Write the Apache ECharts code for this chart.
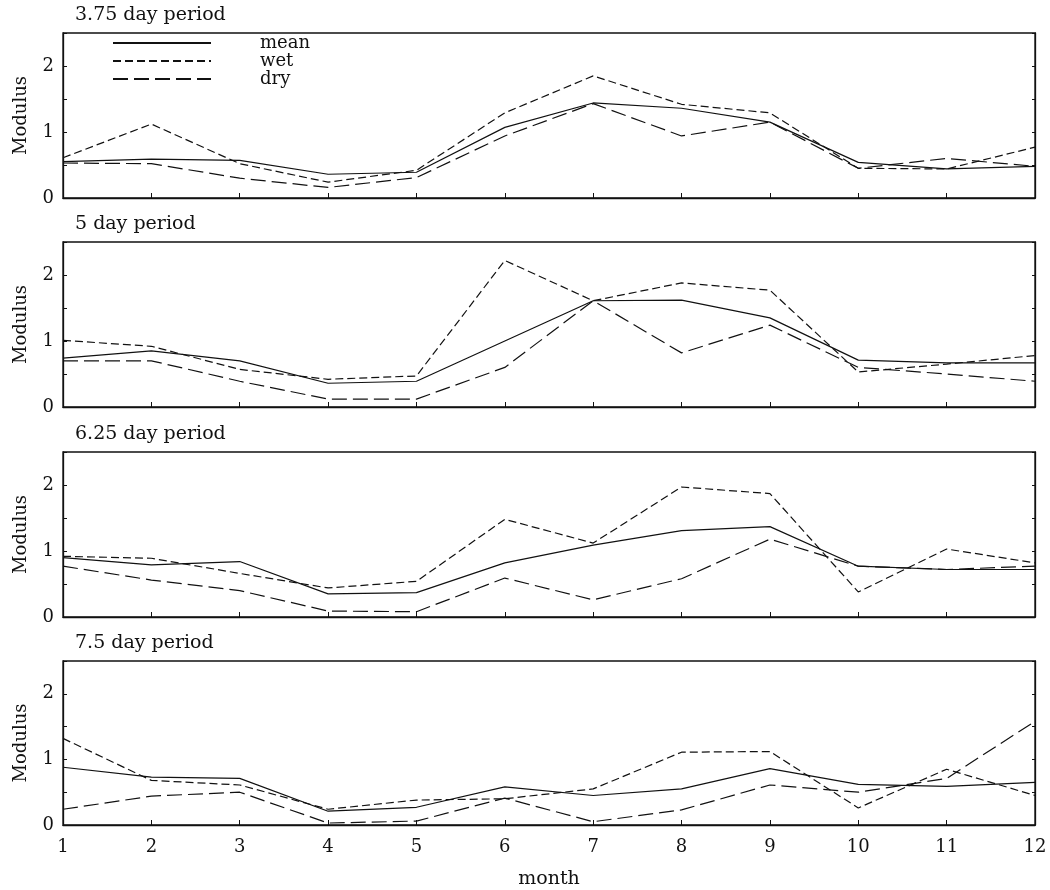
<!DOCTYPE html>
<html><head><meta charset="utf-8">
<script src="https://cdn.jsdelivr.net/npm/echarts@6/dist/echarts.min.js"></script>
<style>html,body{margin:0;padding:0;background:#fff}#c{width:1050px;height:890px}</style>
</head><body><div id="c"></div>
<script>
const months = [1,2,3,4,5,6,7,8,9,10,11,12];
const panelTitles = ['3.75 day period','5 day period','6.25 day period','7.5 day period'];
const yTicks = ['0','1','2'];

const mean375 = [0.55,0.59,0.57,0.36,0.39,1.07,1.44,1.36,1.15,0.54,0.44,0.48];
const wet375  = [0.61,1.12,0.52,0.24,0.42,1.29,1.85,1.42,1.29,0.45,0.44,0.77];
const dry375  = [0.53,0.52,0.30,0.16,0.31,0.94,1.43,0.94,1.15,0.45,0.60,0.48];

const mean5 = [0.74,0.85,0.70,0.36,0.39,1.00,1.61,1.62,1.35,0.71,0.67,0.67];
const wet5  = [1.01,0.92,0.57,0.42,0.47,2.22,1.61,1.88,1.77,0.53,0.65,0.78];
const dry5  = [0.70,0.70,0.39,0.12,0.12,0.60,1.61,0.82,1.24,0.60,0.50,0.39];

const mean625 = [0.90,0.79,0.84,0.35,0.37,0.82,1.09,1.31,1.37,0.77,0.72,0.72];
const wet625  = [0.92,0.89,0.66,0.44,0.54,1.48,1.12,1.97,1.87,0.38,1.03,0.82];
const dry625  = [0.77,0.56,0.40,0.09,0.08,0.59,0.26,0.58,1.18,0.77,0.72,0.77];

const mean75 = [0.88,0.73,0.71,0.21,0.27,0.58,0.45,0.55,0.86,0.62,0.59,0.65];
const wet75  = [1.32,0.68,0.61,0.24,0.38,0.40,0.55,1.11,1.12,0.26,0.85,0.45];
const dry75  = [0.24,0.44,0.50,0.03,0.06,0.41,0.05,0.23,0.61,0.50,0.71,1.58];

const panels = [
  [mean375, wet375, dry375],
  [mean5, wet5, dry5],
  [mean625, wet625, dry625],
  [mean75, wet75, dry75]
];
const names = ['mean','wet','dry'];

const FONT = 'DejaVu Serif';
const tops = [33, 242, 452, 661];
const H = 165;
const chart = echarts.init(document.getElementById('c'));
const grid = [], xAxis = [], yAxis = [], series = [], title = [];
const dashes = ['solid', [8,4], [15,6]];

panels.forEach((p, i) => {
  grid.push({left: 63, right: 15, top: tops[i], height: H, show: true, borderColor: '#111', borderWidth: 1.3, backgroundColor: 'transparent'});
  title.push({text: panelTitles[i], left: 75, top: tops[i] - 27, padding: 0,
    textStyle: {fontFamily: FONT, fontSize: 19, fontWeight: 'normal', color: '#111'}});
  const last = i === panels.length - 1;
  xAxis.push({
    type: 'value', gridIndex: i, min: 1, max: 12, interval: 1,
    axisLine: {show: true, lineStyle: {color: '#111', width: 1.3}},
    axisTick: {show: true, inside: true, length: 5, lineStyle: {color: '#111'}},
    splitLine: {show: false},
    axisLabel: {show: last, margin: 13, fontFamily: FONT, fontSize: 18, color: '#111', formatter: v => String(v)},
    name: last ? 'month' : '', nameLocation: 'middle', nameGap: 45,
    nameTextStyle: {fontFamily: FONT, fontSize: 19, color: '#111'}
  });
  yAxis.push({
    type: 'value', gridIndex: i, min: 0, max: 2.5, interval: 0.5,
    axisLine: {show: true, lineStyle: {color: '#111', width: 1.3}},
    axisTick: {show: true, inside: true, length: 4, lineStyle: {color: '#111'}},
    splitLine: {show: false},
    axisLabel: {margin: 9, fontFamily: FONT, fontSize: 18, color: '#111',
      formatter: v => (yTicks.indexOf(String(v)) >= 0 ? String(v) : '')},
    name: 'Modulus', nameLocation: 'middle', nameGap: 33, nameRotate: 90,
    nameTextStyle: {fontFamily: FONT, fontSize: 18, color: '#111'}
  });
  yAxis.push({
    type: 'value', gridIndex: i, min: 0, max: 2.5, interval: 0.5, position: 'right',
    axisLine: {show: true, lineStyle: {color: '#111', width: 1.3}},
    axisTick: {show: true, inside: true, length: 3, lineStyle: {color: '#111'}},
    splitLine: {show: false}, axisLabel: {show: false}
  });
  p.forEach((vals, k) => {
    series.push({
      name: names[k], type: 'line', xAxisIndex: i, yAxisIndex: i * 2,
      data: months.map((m, j) => [m, vals[j]]),
      symbol: 'none', silent: true, animation: false,
      itemStyle: {color: '#111'},
      lineStyle: {color: '#111', width: 1.2, type: dashes[k]}
    });
  });
});

chart.setOption({
  backgroundColor: '#fff',
  animation: false,
  title, grid, xAxis, yAxis, series,
  legend: {
    data: names, orient: 'vertical', left: 112, top: 34, padding: 0,
    itemWidth: 98, itemHeight: 10, itemGap: 0,
    selectedMode: false,
    itemStyle: {opacity: 0},
    textStyle: {fontFamily: FONT, fontSize: 18, color: '#111', lineHeight: 16, padding: [0,0,0,44]}
  }
});
</script></body></html>
